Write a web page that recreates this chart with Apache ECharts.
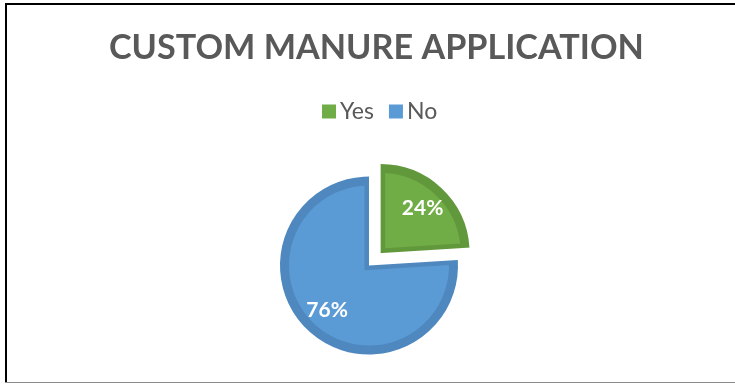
<!DOCTYPE html>
<html>
<head>
<meta charset="utf-8">
<script src="https://cdn.jsdelivr.net/npm/echarts@6/dist/echarts.min.js"></script>
<style>
  html, body { margin: 0; padding: 0; background: #fff; }
  #chart { width: 735px; height: 385px; }
</style>
</head>
<body>
<div id="chart"></div>
<script>
// Share of farms using custom manure application
const categories = ['Yes', 'No'];
const shares = [24, 76];
const fillColors = ['#70AD47', '#5B9BD5'];
const edgeColors = ['#62983C', '#4E88BF'];
const titleText = 'CUSTOM MANURE APPLICATION';

const FONT = 'Lato, "Open Sans", sans-serif';
const CENTER = [369, 265.5];
const OUTER = 89;        // outer edge of each slice, border included
const EDGE = 9;          // width of the darker slice edge
const OFFSET = 17;       // how far the "Yes" slice is pulled out
const PATH_R = OUTER - EDGE / 2;

const sliceData = categories.map((name, i) => ({
  name,
  value: shares[i],
  selected: i === 0,
  itemStyle: { color: fillColors[i], borderColor: edgeColors[i] }
}));

const labelData = categories.map((name, i) => ({
  name,
  value: shares[i],
  selected: i === 0
}));

// white band that keeps the pulled-out slice visibly apart from the rest
const gapData = categories.map((name, i) => ({
  name,
  value: shares[i],
  selected: i === 0,
  itemStyle: i === 0 ? { borderWidth: OFFSET * Math.sin(Math.PI * shares[0] / 100) } : { borderWidth: 0 }
}));

const chart = echarts.init(document.getElementById('chart'), null, { renderer: 'canvas' });
chart.setOption({
  animation: false,
  backgroundColor: '#ffffff',
  title: {
    text: titleText,
    left: 104,
    top: 26,
    textStyle: { fontFamily: FONT, fontWeight: 'bold', fontSize: 34.2, color: '#595959' }
  },
  legend: {
    data: categories,
    top: 95,
    left: 317,
    itemWidth: 14,
    itemHeight: 14,
    itemGap: 15,
    icon: 'rect',
    itemStyle: { borderWidth: 0 },
    textStyle: { fontFamily: FONT, fontSize: 23, color: '#595959', padding: [0, 0, 0, -1] },
    selectedMode: false
  },
  graphic: {
    elements: [
      { type: 'line', z: 100, shape: { x1: 6, y1: 3, x2: 6, y2: 383 }, style: { stroke: '#000', lineWidth: 2 }, silent: true },
      { type: 'line', z: 100, shape: { x1: 5, y1: 4, x2: 735, y2: 4 }, style: { stroke: '#000', lineWidth: 2 }, silent: true },
      { type: 'line', z: 100, shape: { x1: 5, y1: 382.5, x2: 735, y2: 382.5 }, style: { stroke: '#8c8c8c', lineWidth: 1 }, silent: true }
    ]
  },
  series: [
    {
      type: 'pie',
      z: 2,
      center: CENTER,
      radius: [0, PATH_R],
      startAngle: 90,
      clockwise: true,
      selectedMode: 'single',
      selectedOffset: OFFSET,
      silent: true,
      itemStyle: { borderWidth: EDGE, borderJoin: 'miter' },
      label: { show: false },
      labelLine: { show: false },
      emphasis: { disabled: true },
      data: sliceData
    },
    {
      type: 'pie',
      z: 3,
      center: CENTER,
      radius: [0, 125],
      startAngle: 90,
      clockwise: true,
      selectedMode: 'single',
      selectedOffset: OFFSET / 2,
      silent: true,
      itemStyle: { color: 'rgba(0,0,0,0)', borderColor: '#ffffff', borderJoin: 'miter' },
      label: { show: false },
      labelLine: { show: false },
      emphasis: { disabled: true },
      data: gapData
    },
    {
      // transparent ring used only to place the percentage labels
      type: 'pie',
      z: 4,
      center: CENTER,
      radius: [32, PATH_R],
      startAngle: 90,
      clockwise: true,
      selectedMode: 'single',
      selectedOffset: OFFSET,
      silent: true,
      itemStyle: { color: 'rgba(0,0,0,0)' },
      label: {
        show: true,
        position: 'inside',
        formatter: p => p.value + '%',
        fontFamily: FONT,
        fontWeight: 'bold',
        fontSize: 21,
        color: '#ffffff'
      },
      labelLine: { show: false },
      emphasis: { disabled: true },
      data: labelData
    }
  ]
});
</script>
</body>
</html>
